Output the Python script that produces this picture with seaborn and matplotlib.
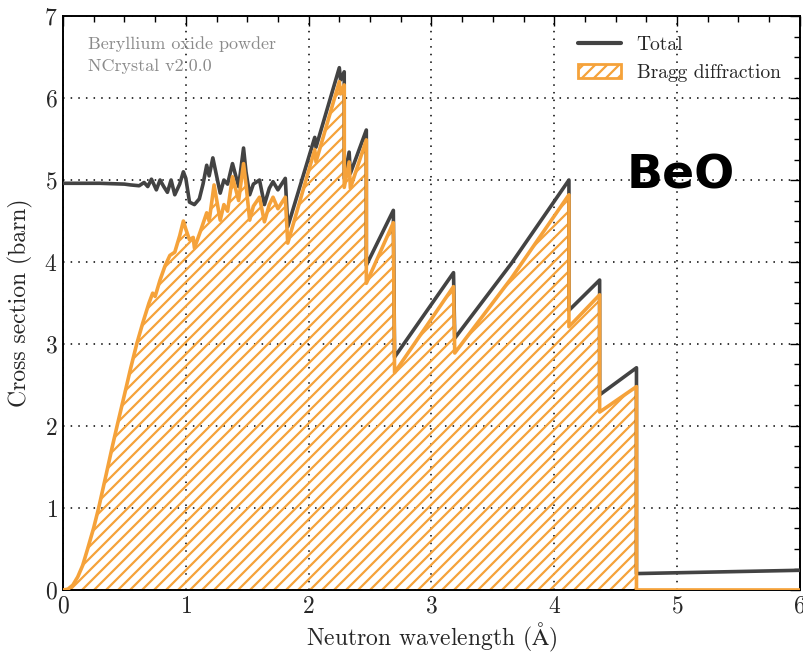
import numpy as np
import pandas as pd
import matplotlib
matplotlib.use("Agg")
import matplotlib.pyplot as plt
from matplotlib.lines import Line2D
from matplotlib.patches import Patch
from matplotlib.ticker import MultipleLocator
import seaborn as sns

# Total cross section of BeO powder (barn) vs neutron wavelength (Angstrom)
wl_total = [0.00, 0.30, 0.50, 0.55, 0.62, 0.66, 0.69, 0.72, 0.76, 0.79, 0.82, 0.85,
            0.88, 0.91, 0.95, 0.98, 1.00, 1.03, 1.07, 1.11, 1.14, 1.17, 1.19, 1.22,
            1.28, 1.31, 1.34, 1.38, 1.43, 1.47, 1.49, 1.52, 1.55, 1.60, 1.64, 1.68,
            1.71, 1.75, 1.81, 1.83, 2.05, 2.06, 2.25, 2.26, 2.29, 2.29, 2.33, 2.34,
            2.47, 2.47, 2.69, 2.70, 3.18, 3.19, 3.65, 4.12, 4.12, 4.37, 4.37, 4.67,
            4.67, 6.00]
total = [4.96, 4.96, 4.95, 4.94, 4.93, 4.97, 4.92, 5.01, 4.88, 5.00, 4.92, 4.85,
         5.00, 4.82, 4.95, 5.10, 5.02, 4.73, 4.70, 4.77, 4.95, 5.18, 5.05, 5.27,
         4.84, 5.00, 4.95, 5.20, 4.92, 5.39, 5.10, 4.82, 4.95, 5.00, 4.70, 4.90,
         4.98, 4.88, 5.02, 4.43, 5.52, 5.40, 6.37, 6.22, 6.32, 5.02, 5.34, 5.08,
         5.61, 3.96, 4.63, 2.84, 3.87, 3.07, 3.98, 5.00, 3.41, 3.78, 2.38, 2.71,
         0.20, 0.24]

# Coherent elastic (Bragg) contribution
wl_bragg = [0.00, 0.04, 0.08, 0.12, 0.16, 0.20, 0.25, 0.29, 0.35, 0.40, 0.44, 0.50,
            0.55, 0.60, 0.65, 0.70, 0.73, 0.75, 0.79, 0.83, 0.87, 0.91, 0.95, 0.98,
            1.00, 1.03, 1.06, 1.07, 1.12, 1.17, 1.19, 1.23, 1.28, 1.31, 1.34, 1.38,
            1.43, 1.47, 1.49, 1.52, 1.55, 1.60, 1.64, 1.68, 1.71, 1.75, 1.81, 1.83,
            2.05, 2.06, 2.25, 2.26, 2.29, 2.29, 2.33, 2.34, 2.47, 2.47, 2.69, 2.70,
            3.18, 3.19, 3.65, 4.12, 4.12, 4.37, 4.37, 4.67, 4.67, 6.00]
bragg = [0.00, 0.01, 0.06, 0.16, 0.30, 0.50, 0.76, 1.00, 1.40, 1.74, 2.00, 2.38,
         2.70, 3.00, 3.26, 3.50, 3.62, 3.58, 3.78, 3.95, 4.08, 4.12, 4.32, 4.50,
         4.40, 4.27, 4.30, 4.17, 4.38, 4.60, 4.50, 4.94, 4.51, 4.70, 4.62, 5.04,
         4.75, 5.20, 4.95, 4.51, 4.68, 4.79, 4.49, 4.70, 4.79, 4.65, 4.79, 4.23,
         5.37, 5.22, 6.20, 6.05, 6.16, 4.91, 5.22, 4.90, 5.49, 3.74, 4.48, 2.65,
         3.70, 2.89, 3.80, 4.82, 3.21, 3.60, 2.17, 2.48, 0.00, 0.00]

x_ticks = [0, 1, 2, 3, 4, 5, 6]
y_ticks = [0, 1, 2, 3, 4, 5, 6, 7]

# Render at 144 dpi so the hatch gets a 12 px pitch; sizes below are
# given in "100-dpi points" and scaled by K.
DPI = 144
K = 100 / DPI
HATCH = "////"

sns.set_style("white")
plt.rcParams["font.family"] = ["cmr10", "DejaVu Serif"]
plt.rcParams["mathtext.fontset"] = "cm"
plt.rcParams["axes.formatter.use_mathtext"] = True
plt.rcParams["hatch.linewidth"] = 1.6 * K

GRAY = "#434343"
ORANGE = "#f5a23a"

df_total = pd.DataFrame({"wl": wl_total, "xs": total})
df_bragg = pd.DataFrame({"wl": wl_bragg, "xs": bragg})

fig = plt.figure(figsize=(803 / DPI, 654 / DPI), dpi=DPI)
ax = fig.add_axes([0.0785, 0.0979, 0.9175, 0.8776])

ax.fill_between(df_bragg["wl"], 0, df_bragg["xs"], facecolor="none",
                edgecolor=ORANGE, hatch=HATCH, linewidth=0, zorder=2)
sns.lineplot(data=df_total, x="wl", y="xs", sort=False, estimator=None,
             color=GRAY, linewidth=2.6 * K, ax=ax, zorder=3)
sns.lineplot(data=df_bragg, x="wl", y="xs", sort=False, estimator=None,
             color=ORANGE, linewidth=2.6 * K, ax=ax, zorder=4)

ax.set_xlim(0, 6)
ax.set_ylim(0, 7)
ax.set_xticks(x_ticks)
ax.set_yticks(y_ticks)
ax.xaxis.set_minor_locator(MultipleLocator(0.25))
ax.yaxis.set_minor_locator(MultipleLocator(0.25))
ax.tick_params(which="both", direction="in", top=True, right=True,
               labelsize=17 * K, width=1.0 * K, color="black")
ax.tick_params(which="major", length=7 * K, pad=4 * K)
ax.tick_params(which="minor", length=4 * K)
ax.grid(True, which="major", linestyle=(0, (1, 4)), color="black", linewidth=1.1 * K)
for s in ax.spines.values():
    s.set_color("black")
    s.set_linewidth(1.4 * K)

ax.set_xlabel(r"Neutron wavelength ($\mathrm{\AA}$)", fontsize=17 * K, labelpad=2 * K)
ax.set_ylabel("Cross section (barn)", fontsize=17 * K, labelpad=8 * K)

ax.text(0.034, 0.965, "Beryllium oxide powder\nNCrystal v2.0.0", transform=ax.transAxes,
        ha="left", va="top", fontsize=13 * K, color="#8a8a8a", linespacing=1.55)

handles = [Line2D([], [], color=GRAY, linewidth=3 * K),
           Patch(facecolor="white", edgecolor=ORANGE, hatch=HATCH, linewidth=2 * K)]
ax.legend(handles, ["Total", "Bragg diffraction"], loc="upper right",
          frameon=False, fontsize=14 * K, handlelength=2.2, borderaxespad=0.4,
          bbox_to_anchor=(0.995, 0.992))

fig.text(0.848, 0.731, "BeO", family="DejaVu Sans", weight="bold", fontsize=34 * K,
         ha="center", va="center", color="black")

fig.savefig("out.png", dpi=DPI)
